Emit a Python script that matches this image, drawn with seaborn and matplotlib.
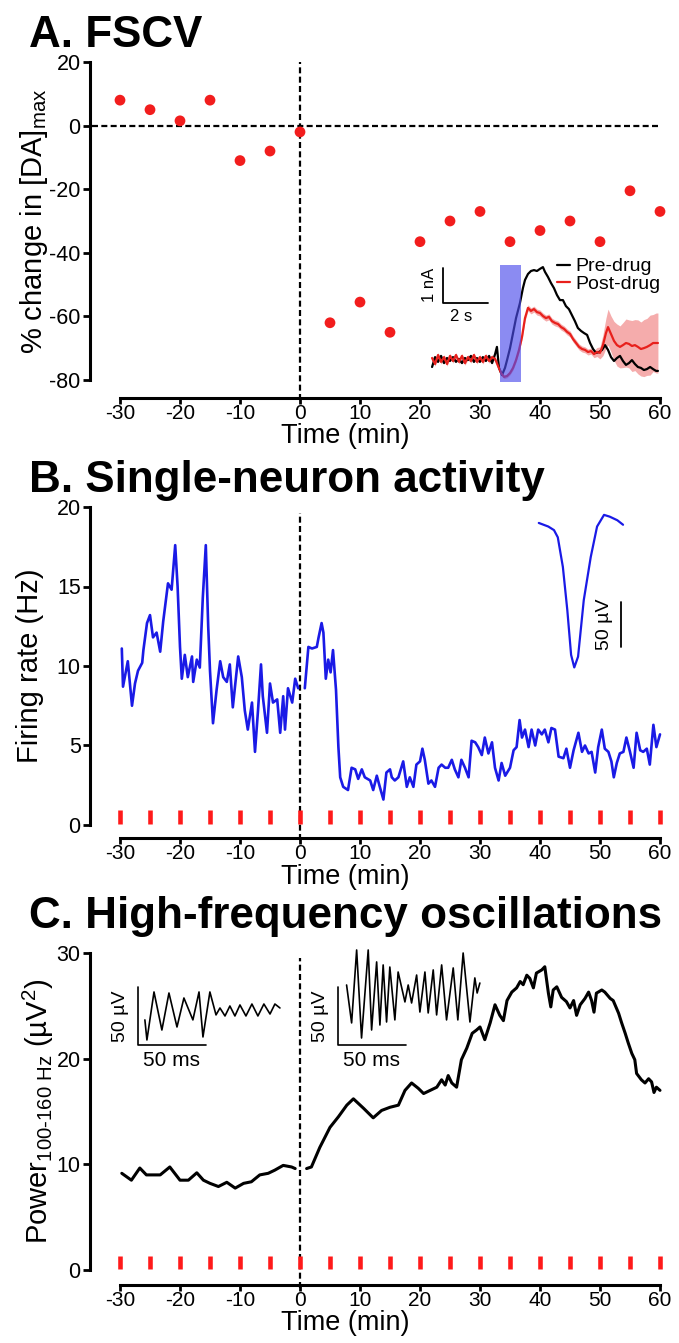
import numpy as np
import pandas as pd
import seaborn as sns
import matplotlib
matplotlib.use("Agg")
from matplotlib import pyplot as plt

# ---- A. FSCV: % change in [DA]max every 5 min
a_time = list(range(-30, 61, 5))
a_change = [8, 5, 1.5, 8, -11, -8, -2, -62, -55.5, -65, -36.5, -30, -27, -36.5, -33, -30, -36.5, -20.5, -27]

# FSCV inset traces (s, nA)
pre_t = [0.09, 0.22, 0.35, 0.48, 0.61, 0.74, 0.87, 1.0, 1.13, 1.26, 1.39, 1.52, 1.65, 1.78, 1.91, 2.04, 2.17, 2.30,
         2.43, 2.57, 2.70, 2.83, 2.91, 3.0, 3.13, 3.26, 3.35, 3.48, 3.61, 3.74, 3.91, 4.04, 4.13, 4.26, 4.39, 4.52,
         4.65, 4.78, 4.91, 5.0, 5.13, 5.26, 5.39, 5.52, 5.65, 5.78, 5.91, 6.04, 6.17, 6.30, 6.43, 6.57, 6.70, 6.83,
         6.96, 7.09, 7.22, 7.35, 7.48, 7.61, 7.74, 7.87, 8.0, 8.13, 8.26, 8.39, 8.52, 8.65, 8.78, 8.91, 9.04, 9.17,
         9.30, 9.43, 9.57, 9.70, 9.83, 9.91]
pre_na = [-0.3, 0.03, -0.13, 0.07, -0.17, 0, -0.1, 0.03, -0.13, -0.03, -0.17, 0, -0.07, 0.07, -0.13, 0, -0.13, 0.03,
          -0.1, 0.07, -0.17, 0.13, 0.37, -0.33, -0.57, -0.33, -0.07, 0.33, 0.83, 1.33, 1.83, 2.33, 2.6, 2.8, 2.9, 2.93,
          2.9, 2.97, 3.03, 2.87, 2.7, 2.5, 2.33, 2.1, 1.93, 1.93, 1.73, 1.63, 1.43, 1.23, 1.0, 0.9, 0.83, 0.77,
          0.5, 0.3, 0.17, 0.2, 0.27, 0.43, 0.27, 0.03, -0.1, 0, 0.07, -0.1, -0.23, -0.17, -0.07, -0.2, -0.3, -0.33,
          -0.4, -0.37, -0.3, -0.37, -0.43, -0.43]
post_t = [0.09, 0.22, 0.35, 0.48, 0.61, 0.74, 0.87, 1.0, 1.13, 1.26, 1.39, 1.52, 1.65, 1.78, 1.91, 2.04, 2.17, 2.30,
          2.43, 2.57, 2.70, 2.83, 2.96, 3.09, 3.22, 3.35, 3.48, 3.61, 3.74, 3.87, 4.0, 4.13, 4.26, 4.39, 4.52, 4.65,
          4.78, 4.91, 5.04, 5.17, 5.30, 5.43, 5.57, 5.70, 5.83, 5.96, 6.09, 6.22, 6.35, 6.48, 6.61, 6.74, 6.87, 7.0,
          7.13, 7.26, 7.39, 7.52, 7.65, 7.74, 7.87, 8.0, 8.13, 8.26, 8.39, 8.52, 8.65, 8.78, 8.91, 9.04, 9.17, 9.30,
          9.43, 9.57, 9.70, 9.83, 9.91]
post_na = [0.0, -0.2, 0.1, -0.13, 0.03, -0.2, 0.07, -0.1, 0.1, -0.13, 0.07, -0.17, 0.03, -0.1, 0.1, -0.13, 0.03, -0.13,
           0.07, -0.1, 0.03, -0.03, -0.27, -0.5, -0.63, -0.6, -0.5, -0.33, -0.07, 0.27, 0.7, 1.33, 1.67, 1.57, 1.63, 1.53,
           1.5, 1.4, 1.33, 1.37, 1.23, 1.17, 1.13, 1.03, 0.97, 0.87, 0.8, 0.63, 0.5, 0.37, 0.3, 0.27, 0.2, 0.23,
           0.13, 0.2, 0.17, 0.43, 0.83, 1.03, 0.8, 0.57, 0.43, 0.37, 0.43, 0.5, 0.47, 0.4, 0.43, 0.37, 0.3, 0.33,
           0.37, 0.43, 0.5, 0.5, 0.5]
post_sem = [0.08, 0.07, 0.08, 0.07, 0.08, 0.07, 0.08, 0.07, 0.08, 0.07, 0.08, 0.07, 0.08, 0.07, 0.08, 0.07, 0.08, 0.07,
            0.08, 0.07, 0.08, 0.07, 0.07, 0.07, 0.06, 0.06, 0.06, 0.07, 0.07, 0.08, 0.09, 0.1, 0.1, 0.1, 0.1, 0.1,
            0.1, 0.1, 0.1, 0.1, 0.1, 0.1, 0.1, 0.1, 0.1, 0.1, 0.1, 0.1, 0.1, 0.1, 0.1, 0.1, 0.1, 0.1,
            0.12, 0.15, 0.2, 0.35, 0.5, 0.6, 0.6, 0.65, 0.7, 0.7, 0.75, 0.8, 0.8, 0.85, 0.85, 0.9, 0.9, 0.95,
            0.95, 1.0, 0.95, 1.0, 1.0]
stim_window = (3.05, 3.95)

# ---- B. firing rate (Hz)
b_time = [-29.7, -29.5, -28.7, -28.0, -27.5, -27.0, -26.3, -26.1, -25.5, -25.0, -24.5, -23.9, -23.3, -22.8, -22.2,
          -22.0, -21.4, -20.8, -20.4, -20.0, -19.7, -19.2, -18.7, -18.0, -17.8, -17.2, -16.7, -16.2, -15.7, -15.3,
          -15.0, -14.5, -13.9, -13.3, -12.8, -12.2, -11.7, -11.2, -10.3, -9.7, -9.2, -8.7, -8.0, -7.5, -7.0,
          -6.5, -6.2, -5.5, -5.0, -4.5, -3.8, -3.3, -2.8, -2.5, -2.0, -1.3, -0.8, -0.3,
          0.8, 1.4, 2.0, 2.8, 3.1, 3.6, 3.9, 4.3, 4.7, 5.1, 5.5, 6.0, 6.4, 6.7, 7.2, 8.0, 8.6, 9.2, 9.7, 10.3,
          10.8, 11.7, 12.2, 12.8, 13.3, 13.9, 14.4, 15.0, 15.3, 15.8, 16.4, 17.2, 17.8, 18.3, 18.9, 19.4, 20.0,
          20.4, 20.8, 21.4, 21.9, 22.5, 23.1, 23.6, 24.2, 24.7, 25.3, 25.8, 26.4, 26.9, 27.5, 28.1, 28.6, 29.2,
          29.7, 30.3, 30.8, 31.4, 32.0, 32.5, 33.1, 33.6, 34.2, 35.0, 35.6, 36.1, 36.6, 37.0, 37.5, 38.1, 38.6,
          39.2, 39.7, 40.3, 40.8, 41.4, 41.9, 42.5, 43.1, 43.9, 44.4, 45.0, 45.6, 46.4, 47.0, 47.5, 48.1, 48.6,
          49.2, 49.7, 50.3, 50.8, 51.4, 51.9, 52.3, 52.8, 53.3, 53.9, 54.4, 55.0, 55.6, 56.1, 56.7, 57.2, 57.8,
          58.3, 58.9, 59.4, 60.0]
b_rate = [11.1, 8.7, 10.3, 7.5, 8.9, 9.7, 10.2, 11.0, 12.7, 13.2, 11.8, 12.1, 10.9, 12.8, 14.6,
          15.2, 14.8, 17.6, 15.0, 11.2, 9.2, 10.7, 9.3, 10.6, 9.0, 10.4, 9.9, 14.3, 17.6, 12.5,
          9.7, 6.4, 8.5, 10.3, 9.3, 9.0, 10.1, 7.4, 10.6, 9.3, 7.2, 6.0, 7.7, 4.6, 7.2,
          10.1, 8.1, 5.8, 8.9, 7.7, 7.9, 5.8, 8.1, 6.0, 8.6, 7.7, 9.2, 8.6,
          8.6, 11.2, 11.1, 11.2, 11.8, 12.7, 12.1, 9.2, 10.4, 9.6, 11.0, 8.5, 4.9, 3.0, 2.4, 2.2, 3.6, 3.5, 2.9, 3.5,
          3.0, 2.8, 2.2, 3.1, 2.4, 1.6, 3.3, 3.5, 3.0, 2.8, 3.0, 4.0, 2.4, 3.0, 2.4, 3.8, 4.0,
          4.8, 4.1, 2.6, 2.8, 2.4, 3.6, 3.8, 3.6, 3.6, 4.1, 3.5, 3.0, 4.1, 3.6, 3.0, 5.3, 5.2,
          4.9, 4.4, 5.5, 4.5, 5.2, 3.6, 2.8, 3.9, 3.1, 3.6, 4.7, 4.9, 6.6, 5.5, 6.0, 4.9, 6.0,
          5.0, 6.0, 5.7, 6.0, 5.2, 6.1, 6.0, 4.3, 4.2, 4.8, 3.6, 4.7, 5.8, 4.6, 5.0, 4.5, 4.6,
          3.3, 4.9, 6.0, 4.8, 4.6, 4.0, 3.0, 3.9, 4.5, 4.6, 5.5, 4.6, 3.6, 5.8, 4.7, 4.6, 4.8,
          3.8, 6.3, 4.9, 5.7]

# spike waveform inset (ms, uV)
spike_ms = [0.06, 0.21, 0.30, 0.36, 0.44, 0.51, 0.57, 0.62, 0.68, 0.77, 0.88, 0.98, 1.09, 1.18, 1.30, 1.39]
spike_uv = [0, -4, -8, -16, -49, -97, -147, -161, -149, -86, -38, -4, 9, 7, 3, -2]

# ---- C. HFO power (uV^2)
c_time = [-29.7, -28.1, -26.7, -25.6, -23.3, -21.7, -20.0, -18.6, -17.2, -16.1, -15.0, -13.6, -12.2, -10.8,
          -9.4, -8.1, -6.7, -5.3, -4.2, -2.8, -1.4, -0.8,
          1.1, 1.9, 3.3, 5.0, 6.4, 7.8, 8.9, 10.6, 12.2, 13.6, 15.0, 16.4, 17.5, 18.6, 19.7, 20.6, 21.7, 22.8,
          23.6, 24.2, 24.7, 25.3, 26.1, 26.9, 27.8, 28.7, 29.4, 30.0, 30.8, 31.7, 32.5, 33.3, 33.9, 34.5, 35.3,
          36.1, 36.7, 37.2, 37.8, 38.3, 38.9, 39.4, 40.3, 40.8, 41.4, 41.8, 42.2, 42.8, 43.6, 44.4, 45.0, 45.6,
          46.1, 46.7, 47.5, 48.1, 48.6, 49.0, 49.4, 50.3, 50.8, 51.7, 52.2, 53.1, 53.6, 54.2, 54.7, 55.3, 55.8,
          56.1, 56.9, 57.5, 58.1, 58.6, 59.0, 59.4, 60.0]
c_power = [9.15, 8.5, 9.65, 9.0, 9.0, 9.75, 8.5, 8.5, 9.2, 8.5, 8.2, 7.9, 8.3, 7.75,
           8.2, 8.35, 9.0, 9.15, 9.45, 9.9, 9.75, 9.6,
           9.6, 9.75, 11.6, 13.5, 14.5, 15.6, 16.2, 15.3, 14.4, 15.1, 15.4, 15.6, 17.0, 17.7, 17.2, 16.7, 17.0, 17.3,
           18.0, 17.5, 18.4, 17.7, 17.3, 19.9, 21.0, 22.4, 22.7, 23.0, 21.8, 23.4, 25.1, 24.1, 23.6, 25.5, 26.3,
           26.7, 27.3, 27.0, 27.9, 27.6, 26.7, 28.1, 28.4, 28.7, 26.2, 24.9, 26.5, 26.8, 25.8, 25.4, 24.8, 25.5,
           24.1, 25.1, 25.7, 26.3, 25.5, 24.4, 26.2, 26.5, 26.3, 25.7, 25.5, 24.3, 23.4, 22.4, 21.5, 20.5, 19.9,
           18.6, 18.0, 17.7, 18.1, 17.8, 16.8, 17.3, 17.0]

# LFP inset traces (ms, uV), each relative to its own scale bar
lfp_pre_ms = [5.1, 6.6, 11.8, 17.6, 22.8, 28.7, 33.8, 40.4, 44.9, 47.8, 52.9, 57.4, 60.3, 64.0, 67.6, 71.3, 75.0,
              79.4, 83.8, 88.2, 92.6, 97.1, 100.7, 104.4]
lfp_pre_uv = [21.6, 4.3, 45.7, 12.9, 44.8, 15.5, 40.5, 21.6, 45.7, 6.9, 45.7, 25.9, 31.9, 25.0, 33.6, 25.0, 34.5,
              25.0, 35.3, 25.0, 35.3, 26.7, 35.3, 31.9]
lfp_post_ms = [6.4, 10.1, 13.8, 17.4, 22.3, 24.8, 28.5, 30.9, 33.3, 35.8, 38.2, 41.9, 44.3, 49.3, 51.7, 54.2, 57.9,
               60.3, 64.0, 66.4, 70.1, 72.6, 76.3, 79.9, 84.8, 88.2, 92.1, 97.1, 100.7, 102.4, 104.4]
lfp_post_uv = [51.7, 19.0, 81.9, 6.0, 81.9, 12.9, 71.6, 17.2, 69.0, 19.8, 67.2, 21.6, 62.9, 37.1, 51.7, 36.2, 60.3,
               28.4, 62.9, 27.6, 64.7, 25.9, 69.0, 21.6, 66.4, 21.6, 79.3, 19.8, 57.8, 44.8, 53.4]

infusion_times = list(range(-30, 61, 5))

W, H = 679, 1343
RED = "#f21d1d"
BLUE = "#1a1ae6"

sns.set_style("ticks")
plt.rcParams["font.family"] = ["Liberation Sans", "DejaVu Sans"]
plt.rcParams["mathtext.fontset"] = "custom"
plt.rcParams["mathtext.rm"] = "Liberation Sans"
plt.rcParams["mathtext.it"] = "Liberation Sans:italic"
plt.rcParams["axes.unicode_minus"] = False
for key in ("text.color", "axes.labelcolor", "xtick.color", "ytick.color", "axes.edgecolor"):
    plt.rcParams[key] = "black"

fig = plt.figure(figsize=(W / 100, H / 100), dpi=100)


def px_axes(x0, y0, x1, y1):
    return fig.add_axes([x0 / W, 1 - y1 / H, (x1 - x0) / W, (y1 - y0) / H])


def style_main(ax, yticks, bottom_off, top_px, bottom_px, label_top, ylabel, ylabel_x):
    ax.set_xlim(-31, 61)
    ax.set_xticks(range(-30, 61, 10))
    ax.set_ylim(yticks[0], yticks[-1])
    ax.set_yticks(yticks)
    sns.despine(ax=ax, offset={"left": 17, "bottom": bottom_off}, trim=True)
    for s in ("left", "bottom"):
        ax.spines[s].set_linewidth(2.2)
    ax.tick_params(axis="x", length=4, width=2, pad=0, labelsize=15)
    ax.tick_params(axis="y", length=5, width=2, pad=2, labelsize=15.5)
    ax.set_xlabel("Time (min)", fontsize=19.5)
    ax.xaxis.set_label_coords((345 - 114) / 552, -(label_top - bottom_px) / (bottom_px - top_px))
    ax.set_ylabel(ylabel, fontsize=21)
    ax.yaxis.set_label_coords((ylabel_x - 114) / 552, 0.5)


dash = dict(color="black", lw=1.6, ls=(0, (2.7, 1.5)), clip_on=False, zorder=1)

# ---------------- A
ax_a = px_axes(114, 62, 666, 380)
style_main(ax_a, [-80, -60, -40, -20, 0, 20], 13, 62, 380, 423,
           "% change in [DA]$_{\\mathregular{max}}$", 50)
ax_a.axhline(0, xmin=-0.04, xmax=0.99, **dash)
ax_a.axvline(0, ymin=-0.063, ymax=1.0, **dash)
sns.scatterplot(x=a_time, y=a_change, color=RED, s=60, edgecolor="none", ax=ax_a, clip_on=False, zorder=3)
fig.text(29 / W, 1 - 47 / H, "A. FSCV", fontsize=31.7, fontweight="bold", va="baseline")

# FSCV inset
ax_f = px_axes(430, 262, 660, 382)
ax_f.set_xlim(0, 10)
ax_f.set_ylim(-0.8, 3.2)
ax_f.axis("off")
sns.lineplot(x=pre_t, y=pre_na, color="black", lw=1.6, sort=False, estimator=None, ax=ax_f, label="Pre-drug")
post_lo = np.array(post_na) - np.array(post_sem)
post_hi = np.array(post_na) + np.array(post_sem)
ax_f.fill_between(post_t, post_lo, post_hi, color="#f08080", alpha=0.65, lw=0)
sns.lineplot(x=post_t, y=post_na, color="#e8201c", lw=1.6, sort=False, estimator=None, ax=ax_f, label="Post-drug")
ax_f.axvspan(*stim_window, ymin=0, ymax=0.975, color=(0.3, 0.3, 0.92), alpha=0.65, lw=0, zorder=5)
ax_f.plot([0.57, 0.57, 2.52], [3.0, 1.83, 1.83], color="black", lw=1.3)
ax_f.text(-0.04, 2.45, "1 nA", rotation=90, ha="center", va="center", fontsize=12)
ax_f.text(1.35, 1.37, "2 s", ha="center", va="center", fontsize=12)
ax_f.legend(loc="upper left", bbox_to_anchor=(0.55, 1.035), frameon=False, fontsize=14,
            handlelength=0.7, handletextpad=0.25, labelspacing=0.0, borderpad=0, borderaxespad=0)

# ---------------- B
ax_b = px_axes(114, 507, 666, 825)
style_main(ax_b, [0, 5, 10, 15, 20], 9.4, 507, 825, 864, "Firing rate (Hz)", 44)
ax_b.axvline(0, ymin=-0.047, ymax=0.981, **dash)
ax_b.vlines(infusion_times, 0.05, 0.95, color="#ff1a1a", lw=3.3, zorder=2)
b_df = pd.DataFrame({"t": b_time, "rate": b_rate})
b_df["seg"] = np.where(b_df["t"] < 0, "pre", "post")
sns.lineplot(data=b_df, x="t", y="rate", units="seg", estimator=None, sort=False, color=BLUE, lw=1.9,
             ax=ax_b, legend=False, zorder=3)
fig.text(29 / W, 1 - 492 / H, "B. Single-neuron activity", fontsize=31.7, fontweight="bold", va="baseline")

# spike waveform inset
ax_s = px_axes(535, 505, 630, 680)
ax_s.set_xlim(0, 1.5)
ax_s.set_ylim(-175, 20)
ax_s.axis("off")
sns.lineplot(x=spike_ms, y=spike_uv, color=BLUE, lw=1.6, sort=False, estimator=None, ax=ax_s)
ax_s.plot([1.36, 1.36], [-88, -138], color="black", lw=1.3)
ax_s.text(1.1, -113, "50 µV", rotation=90, ha="center", va="center", fontsize=14)

# ---------------- C
ax_c = px_axes(114, 953, 666, 1270)
style_main(ax_c, [0, 10, 20, 30], 10.8, 953, 1270, 1310,
           "Power$_{\\text{100-160 Hz}}$ (µV$^{\\mathregular{2}}$)", 56)
ax_c.axvline(0, ymin=-0.057, ymax=0.984, **dash)
ax_c.vlines(infusion_times, 0.05, 1.35, color="#ff1a1a", lw=3.3, zorder=2)
c_df = pd.DataFrame({"t": c_time, "power": c_power})
c_df["seg"] = np.where(c_df["t"] < 0, "pre", "post")
sns.lineplot(data=c_df, x="t", y="power", units="seg", estimator=None, sort=False, color="black", lw=2.2,
             ax=ax_c, legend=False, zorder=3)
fig.text(29 / W, 1 - 928 / H, "C. High-frequency oscillations", fontsize=31.7, fontweight="bold", va="baseline")

# LFP insets
POST_OFFSET = 147.0
ax_l = px_axes(100, 940, 500, 1075)
ax_l.set_xlim(-27.9, 266.2)
ax_l.set_ylim(-25.9, 90.5)
ax_l.axis("off")
sns.lineplot(x=lfp_pre_ms, y=lfp_pre_uv, color="black", lw=1.2, sort=False, estimator=None, ax=ax_l)
sns.lineplot(x=np.array(lfp_post_ms) + POST_OFFSET, y=lfp_post_uv, color="black", lw=1.2, sort=False,
             estimator=None, ax=ax_l)
for off in (0, POST_OFFSET):
    ax_l.plot([off, off, off + 50], [50, 0, 0], color="black", lw=1.2)
    ax_l.text(off - 13, 25, "50 µV", rotation=90, ha="center", va="center", fontsize=14)
    ax_l.text(off + 25, -13, "50 ms", ha="center", va="center", fontsize=15)

fig.savefig("out.png", dpi=100)
